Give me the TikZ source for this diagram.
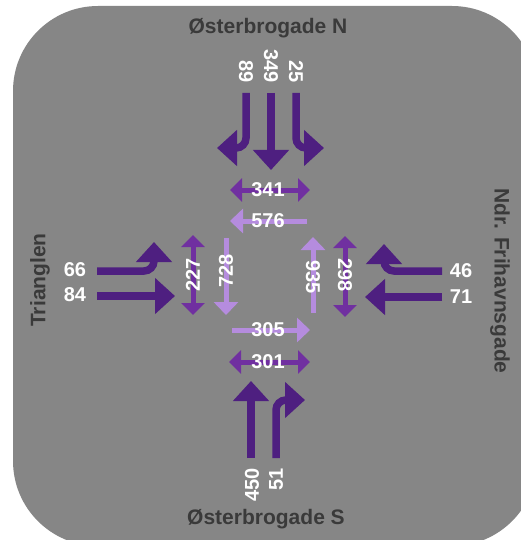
\documentclass[tikz,border=0pt]{standalone}
\usepackage{fontspec}
\setmainfont{Liberation Sans}
\usetikzlibrary{arrows.meta}

\definecolor{panel}{RGB}{134,134,134}
\definecolor{lanecol}{RGB}{78,31,128}
\definecolor{walkcol}{RGB}{112,48,160}
\definecolor{walklight}{RGB}{181,140,222}
\definecolor{streetcol}{RGB}{58,58,58}

\tikzset{
  lane/.style={draw=lanecol, line width=7.5pt, rounded corners=10pt,
    -{Triangle[width=35pt,length=20pt]}},
  walkboth/.style={draw=walkcol, line width=5pt,
    {Triangle[width=23pt,length=12pt]}-{Triangle[width=23pt,length=12pt]}},
  walkone/.style={draw=walklight, line width=5pt,
    -{Triangle[width=24pt,length=13pt]}},
  count/.style={text=white, font=\bfseries\fontsize{20}{20}\selectfont, inner sep=0pt},
  street/.style={text=streetcol, font=\bfseries\fontsize{21}{21}\selectfont, inner sep=0pt},
}

\begin{document}
\begin{tikzpicture}[x=1pt, y=-1pt]
  \useasboundingbox (0,0) rectangle (521,540);
  \fill[panel, rounded corners=85pt] (13,6) rectangle (537,546);

  % street names
  \node[street] (nameN) at (268,28) {Østerbrogade N};
  \node[street] (nameS) at (266,519) {Østerbrogade S};
  \node[street, rotate=90] (nameW) at (40,280) {Trianglen};
  \node[street, rotate=-90] (nameE) at (500,281) {Ndr. Frihavnsgade};

  % lane end points
  \coordinate (nLs) at (246,93);  \coordinate (nLe) at (217,148);
  \coordinate (nTs) at (271,93);  \coordinate (nTe) at (271,170);
  \coordinate (nRs) at (296,93);  \coordinate (nRe) at (324,148);
  \coordinate (wLs) at (97,271);  \coordinate (wLe) at (154,242);
  \coordinate (wTs) at (97,296);  \coordinate (wTe) at (175,296);
  \coordinate (eRs) at (442,271); \coordinate (eRe) at (384,244);
  \coordinate (eTs) at (442,297); \coordinate (eTe) at (365,297);
  \coordinate (sTs) at (251,458); \coordinate (sTe) at (251,381);
  \coordinate (sRs) at (276,458); \coordinate (sRe) at (305,400);

  % approach lanes
  \draw[lane] (nLs) |- (nLe);
  \draw[lane] (nTs) -- (nTe);
  \draw[lane] (nRs) |- (nRe);
  \draw[lane] (wLs) -| (wLe);
  \draw[lane] (wTs) -- (wTe);
  \draw[lane] (eRs) -| (eRe);
  \draw[lane] (eTs) -- (eTe);
  \draw[lane] (sTs) -- (sTe);
  \draw[lane] (sRs) |- (sRe);

  % crossing end points
  \coordinate (cN1a) at (230,190); \coordinate (cN1b) at (310,190);
  \coordinate (cN2a) at (307,221); \coordinate (cN2b) at (230,221);
  \coordinate (cW1a) at (193,235); \coordinate (cW1b) at (193,315);
  \coordinate (cW2a) at (226,238); \coordinate (cW2b) at (226,315);
  \coordinate (cE1a) at (313,313); \coordinate (cE1b) at (313,237);
  \coordinate (cE2a) at (345,236); \coordinate (cE2b) at (345,317);
  \coordinate (cS1a) at (232,330); \coordinate (cS1b) at (310,330);
  \coordinate (cS2a) at (229,362); \coordinate (cS2b) at (310,362);

  % crossings
  \draw[walkboth] (cN1a) -- (cN1b);
  \draw[walkone]  (cN2a) -- (cN2b);
  \draw[walkboth] (cW1a) -- (cW1b);
  \draw[walkone]  (cW2a) -- (cW2b);
  \draw[walkone]  (cE1a) -- (cE1b);
  \draw[walkboth] (cE2a) -- (cE2b);
  \draw[walkone]  (cS1a) -- (cS1b);
  \draw[walkboth] (cS2a) -- (cS2b);

  % crossing counts
  \node[count] (kN1) at (268,190) {341};
  \node[count] (kN2) at (268,221) {576};
  \node[count, rotate=90] (kW1) at (193,275) {227};
  \node[count, rotate=90] (kW2) at (226,271) {728};
  \node[count, rotate=-90] (kE1) at (313,277) {935};
  \node[count, rotate=-90] (kE2) at (345,275) {298};
  \node[count] (kS1) at (268,330) {305};
  \node[count] (kS2) at (268,362) {301};

  % lane counts
  \node[count, rotate=-90, anchor=east] (qN1) at (246,83) {89};
  \node[count, rotate=-90, anchor=east] (qN2) at (271,83) {349};
  \node[count, rotate=-90, anchor=east] (qN3) at (296,83) {25};
  \node[count] (qW1) at (75,270) {66};
  \node[count] (qW2) at (75,295) {84};
  \node[count] (qE1) at (461,271) {46};
  \node[count] (qE2) at (461,297) {71};
  \node[count, rotate=90, anchor=east] (qS1) at (252,468) {450};
  \node[count, rotate=90, anchor=east] (qS2) at (276,468) {51};
\end{tikzpicture}
\end{document}
